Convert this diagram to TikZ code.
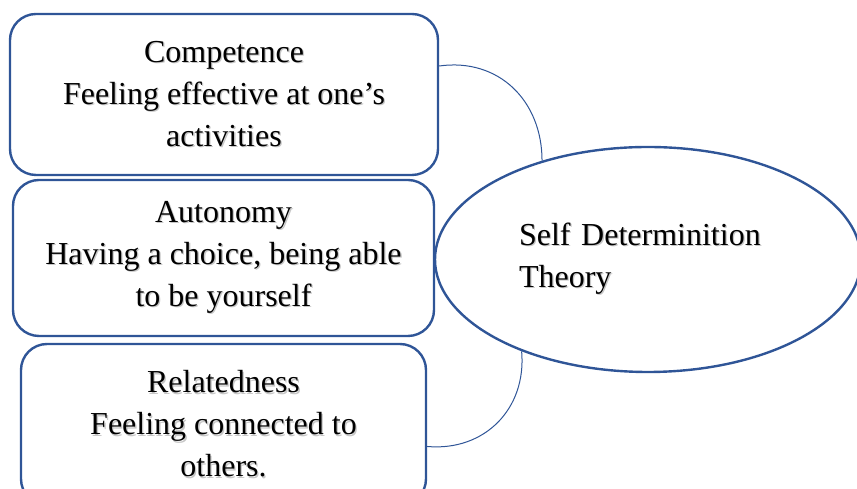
\documentclass[tikz,border=0pt]{standalone}
\usepackage{fontspec}
\setmainfont{Liberation Serif}
\usetikzlibrary{shapes.geometric}
\definecolor{sdtblue}{HTML}{2F5597}
% grey drop shadow behind a line of text
\newcommand\shtext[1]{\leavevmode\rlap{\kern1.3pt\raisebox{-1.3pt}{\color{black!22}#1}}#1}

\begin{document}
\begin{tikzpicture}[x=1pt,y=1pt,
        need/.style={draw=sdtblue,line width=2.4pt,rounded corners=26pt,align=center,
            font=\fontsize{32}{42}\selectfont,inner sep=0pt},
        link/.style={draw=sdtblue,line width=1pt}]
        % page frame, the last box runs off the lower edge
        \clip (0,0) rectangle (857,489);

        % the three needs
        \node[need,minimum width=428pt,minimum height=161pt] (comp) at (224,394.5)
            {\shtext{Competence}\\\shtext{Feeling effective at one’s}\\\shtext{activities}};
        \node[need,minimum width=421pt,minimum height=156pt] (auto) at (223.5,231)
            {\shtext{Autonomy}\\\shtext{Having a choice, being able}\\\shtext{to be yourself}};
        \node[need,minimum width=405pt,minimum height=161pt] (rel) at (223.5,64.5)
            {\shtext{Relatedness}\\\shtext{Feeling connected to}\\\shtext{others.}};

        % theory in the middle
        \node[ellipse,draw=sdtblue,line width=2.4pt,minimum width=426pt,minimum height=225pt,
            text width=258pt,align=left,font=\fontsize{32}{42}\selectfont] (sdt) at (648,229.5)
            {\shtext{Self Determinition}\\\shtext{Theory}};

        % arcs from the boxes to the ellipse
        \draw[link] ([yshift=28.5pt]comp.east) to[out=8,in=90,looseness=1.1] (sdt.137);
        \draw[link] (sdt.216) to[out=-85,in=-5,looseness=1.1] ([yshift=-22pt]rel.east);
    \end{tikzpicture}
\end{document}
